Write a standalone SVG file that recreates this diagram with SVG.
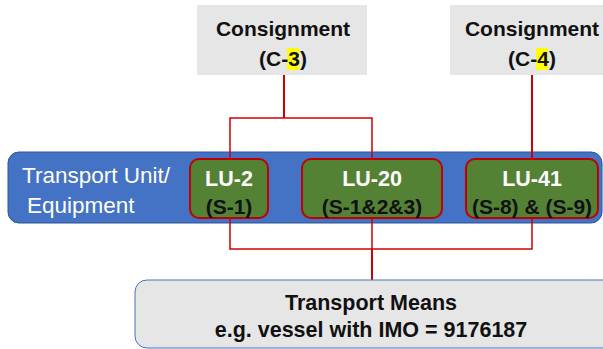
<svg xmlns="http://www.w3.org/2000/svg" width="603" height="349" viewBox="0 0 603 349">
<style>
.cons{fill:#E7E6E6}
.t{font-family:"Liberation Sans",Arial,sans-serif;font-weight:bold;text-anchor:middle}
.lu{fill:#548235;stroke:#C00000;stroke-width:2}
.w{fill:#FFFFFF}
.k{fill:#111111}
.ln{stroke:#D00000;fill:none;stroke-width:1.5}
.lnb{stroke:#D00000;fill:none;stroke-width:2}
</style>
<rect id="band" x="8" y="152" width="594" height="71" rx="11" fill="#4472C4" stroke="#2F5597" stroke-width="1"/>
<g id="connectors">
<path class="lnb" d="M284 75V118"/>
<path class="ln" d="M230 159V118H372V159"/>
<path class="lnb" d="M532 75V159"/>
<path class="ln" d="M230 218V249H532V218"/>
<path class="ln" d="M372 218V249"/>
<path class="lnb" d="M372 249V280"/>
</g>
<g id="consignment3">
<rect class="cons" x="197" y="5" width="170" height="70"/>
<rect x="287" y="48" width="12" height="22" fill="#FFFF00"/>
<text class="t" x="283" y="36" font-size="21" fill="#111">Consignment</text>
<text class="t" x="283" y="66" font-size="21" fill="#111">(C-3)</text>
</g>
<g id="consignment4">
<rect class="cons" x="450" y="5" width="160" height="70"/>
<rect x="536" y="48" width="12" height="22" fill="#FFFF00"/>
<text class="t" x="532" y="36" font-size="21" fill="#111">Consignment</text>
<text class="t" x="532" y="66" font-size="21" fill="#111">(C-4)</text>
</g>
<g id="bandlabel">
<text x="22" y="183" font-family="'Liberation Sans',Arial,sans-serif" font-size="22.5" fill="#FFFFFF">Transport Unit/</text>
<text x="27" y="213" font-family="'Liberation Sans',Arial,sans-serif" font-size="22.5" fill="#FFFFFF">Equipment</text>
</g>
<g id="lu2">
<rect class="lu" x="190" y="159" width="78" height="59" rx="9"/>
<text class="t w" x="229" y="186" font-size="21.5">LU-2</text>
<text class="t k" x="229" y="214" font-size="21">(S-1)</text>
</g>
<g id="lu20">
<rect class="lu" x="302" y="159" width="140" height="59" rx="9"/>
<text class="t w" x="372" y="186" font-size="21.5">LU-20</text>
<text class="t k" x="372" y="214" font-size="21">(S-1&amp;2&amp;3)</text>
</g>
<g id="lu41">
<rect class="lu" x="466" y="159" width="132" height="59" rx="9"/>
<text class="t w" x="532" y="186" font-size="21.5">LU-41</text>
<text class="t k" x="532" y="214" font-size="21">(S-8) &amp; (S-9)</text>
</g>
<g id="means">
<rect x="135" y="280" width="480" height="68" rx="12" fill="#E7E6E6" stroke="#4472C4" stroke-width="1"/>
<text class="t k" x="371" y="310" font-size="21.5">Transport Means</text>
<text class="t k" x="371" y="337" font-size="21.5">e.g. vessel with IMO = 9176187</text>
</g>
</svg>
